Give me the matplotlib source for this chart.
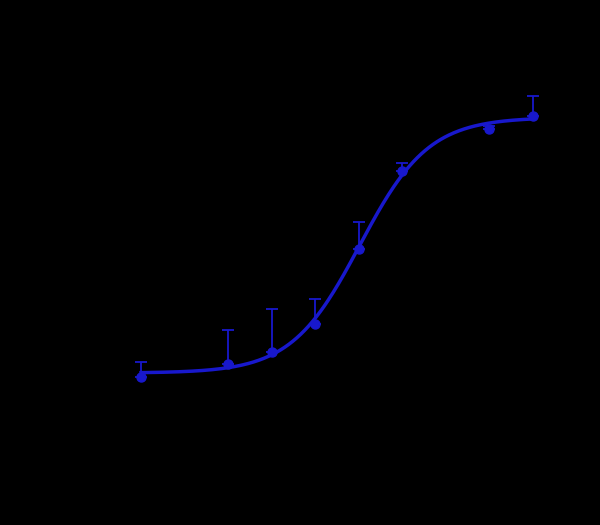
import matplotlib
matplotlib.use("Agg")
import matplotlib.pyplot as plt
import numpy as np

# log concentration, mean response (%) and upper SEM
log_conc = [-11, -9, -8, -7, -6, -5, -3, -2]
response = [0.0, 5.0, 9.6, 20.3, 49.0, 78.9, 95.0, 100.0]
sem_up = [5.7, 13.0, 16.5, 9.6, 10.3, 3.1, 1.0, 7.7]

# 4-parameter logistic fit
bottom, top, log_ec50, hill = 1.5, 99.5, -5.97, 0.55

blue = "#1818cc"

fig = plt.figure(figsize=(6, 5.25), dpi=100, facecolor="black")
ax = fig.add_axes([0.1625, 0.1825, 0.7975, 0.696])
ax.set_facecolor("black")

xs = np.linspace(log_conc[0], log_conc[-1], 300)
fit = bottom + (top - bottom) / (1 + 10 ** ((log_ec50 - xs) * hill))
ax.plot(xs, fit, color=blue, lw=2.5, zorder=2)

ax.errorbar(log_conc, response, yerr=[np.zeros(len(sem_up)), sem_up],
            fmt="o", color=blue, ms=6.5, elinewidth=1.3, capsize=4,
            capthick=1.3, zorder=3)

ax.set_xlim(-12, -1)
ax.set_ylim(-20, 120)
for s in ax.spines.values():
    s.set_color("black")
ax.tick_params(colors="black")
ax.set_xlabel("log[agonist] (M)", color="black")
ax.set_ylabel("Response (%)", color="black")

fig.savefig("out.png", facecolor="black")
